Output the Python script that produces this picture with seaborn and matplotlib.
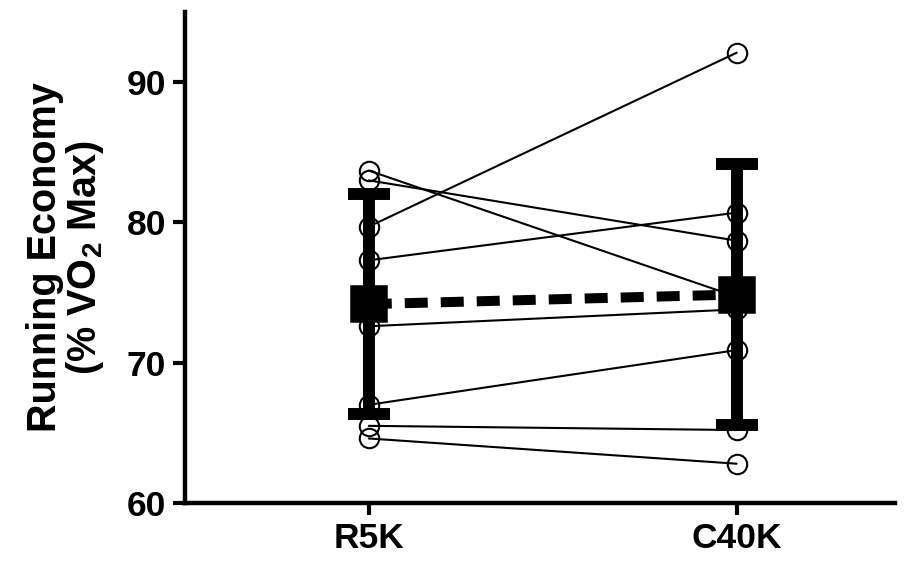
import matplotlib
matplotlib.use("Agg")
import matplotlib.pyplot as plt
import pandas as pd
import seaborn as sns

# running economy (% VO2 max) per runner, paired R5K -> C40K
conditions = ["R5K", "C40K"]
r5k = [83.7, 83.0, 79.7, 77.3, 72.6, 67.0, 65.5, 64.6]
c40k = [74.7, 78.7, 92.1, 80.7, 73.8, 70.9, 65.2, 62.8]
runners = [1, 2, 3, 4, 5, 6, 7, 8]

df = pd.DataFrame({
    "runner": runners * 2,
    "cond": ["R5K"] * len(r5k) + ["C40K"] * len(c40k),
    "re": r5k + c40k,
})

sns.set_style("ticks", {"axes.edgecolor": "black", "xtick.color": "black",
                        "ytick.color": "black", "text.color": "black",
                        "axes.labelcolor": "black"})
plt.rcParams["font.family"] = ["Liberation Sans", "DejaVu Sans"]
plt.rcParams["font.weight"] = "bold"
plt.rcParams["mathtext.fontset"] = "custom"
plt.rcParams["mathtext.rm"] = "Liberation Sans:bold"
plt.rcParams["mathtext.default"] = "rm"

fig = plt.figure(figsize=(9.15, 5.63), dpi=100)
ax = fig.add_axes([0.202, 0.1066, 0.776, 0.872])

# individual runners
sns.lineplot(data=df, x="cond", y="re", units="runner", estimator=None,
             color="black", linewidth=1.5, marker="o", markersize=14,
             markerfacecolor="none", markeredgecolor="black",
             markeredgewidth=1.5, ax=ax, zorder=2)

# mean +/- SD
n0 = len(ax.lines)
sns.pointplot(data=df, x="cond", y="re", order=conditions, errorbar="sd",
              color="black", markers="s", linestyles="--", capsize=0.114,
              markersize=21, linewidth=7.2,
              err_kws={"linewidth": 8.6, "color": "black",
                       "solid_capstyle": "butt"}, ax=ax, zorder=3)
ax.lines[n0].set_dashes((2.3, 1.3))

ax.set_xlim(-0.5, 1.43)
ax.set_ylim(60, 95)
ax.set_yticks([60, 70, 80, 90])
ax.set_xlabel("")
ax.set_ylabel("Running Economy\n(% VO$_2$ Max)", fontsize=28.5, fontweight="bold",
              labelpad=15, linespacing=1.0)

for s in ["top", "right"]:
    ax.spines[s].set_visible(False)
for s in ["left", "bottom"]:
    ax.spines[s].set_linewidth(3.2)
ax.tick_params(axis="both", length=8.6, width=3.0, labelsize=25.5, pad=5)
for lab in ax.get_xticklabels() + ax.get_yticklabels():
    lab.set_fontweight("bold")

fig.savefig("out.png", dpi=100)
